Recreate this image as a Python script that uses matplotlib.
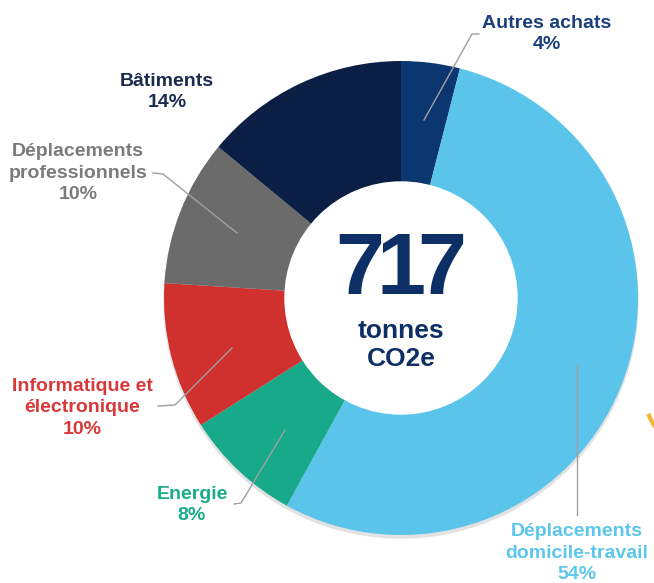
import matplotlib
matplotlib.use("Agg")
import matplotlib.pyplot as plt
from matplotlib.patches import Circle, Arc

plt.rcParams['font.family'] = ['Liberation Sans', 'DejaVu Sans']

# ---- data ----
categories = ["Autres achats", "Déplacements\ndomicile-travail", "Energie",
              "Informatique et\nélectronique", "Déplacements\nprofessionnels", "Bâtiments"]
values = [4, 54, 8, 10, 10, 14]
slice_colors = ["#0b3670", "#5bc4ea", "#17a98a", "#d0302e", "#6b6b6b", "#0b1f44"]
label_colors = ["#1b3e7e", "#5cc6ec", "#1aab8b", "#d9383a", "#7b7b7b", "#1a2b50"]
total_value = "717"
total_unit = "tonnes\nCO2e"

W, H = 654, 583
fig = plt.figure(figsize=(W / 100, H / 100), dpi=100)
ax = fig.add_axes([0, 0, 1, 1])

def Y(y):
    return H - y

cx, cy, R, r_in = 401, 298, 237, 116

# subtle shadow
ax.add_patch(Circle((cx, Y(cy + 3)), R, color="#e2e2e2", zorder=0))

wedges, _ = ax.pie(values, colors=slice_colors, startangle=90, counterclock=False,
                   center=(cx, Y(cy)), radius=R,
                   wedgeprops=dict(width=R - r_in, linewidth=0))
for w in wedges:
    w.set_zorder(1)
ax.add_patch(Circle((cx, Y(cy)), r_in, color="white", zorder=2))

# center text (tightly tracked digits)
num_color = "#0d2f66"
pitch = 41
n = len(total_value)
for i, ch in enumerate(total_value):
    ax.text(401 + (i - (n - 1) / 2) * pitch, Y(271), ch, fontsize=63.5,
            fontweight="bold", color=num_color, ha="center", va="center", zorder=3)
ax.text(401, Y(345), total_unit, fontsize=19, fontweight="bold", color=num_color,
        ha="center", va="center", linespacing=1.2, zorder=3)

# labels
label_pos = [(547, 34), (577, 553), (192, 505), (82, 408), (78, 173), (167, 92)]
for cat, v, col, (lx, ly) in zip(categories, values, label_colors, label_pos):
    ax.text(lx, Y(ly), f"{cat}\n{v}%", fontsize=14, fontweight="bold", color=col,
            ha="center", va="center", linespacing=1.36, zorder=4)

# leader lines
lc = "#a0a0a0"
leaders = [
    [(424, 120), (472, 34), (479, 34)],
    [(577, 365), (577, 515)],
    [(285, 430), (241, 503), (234, 504)],
    [(232, 348), (175, 405), (158, 406)],
    [(237, 233), (163, 174), (153, 173)],
]
for pts in leaders:
    xs = [p[0] for p in pts]
    ys = [Y(p[1]) for p in pts]
    ax.plot(xs, ys, color=lc, lw=1.0, zorder=3)

# yellow artifact at right edge
ax.add_patch(Arc((700, Y(395)), 110, 110, theta1=200, theta2=235,
                 color="#f4b731", lw=3, zorder=3))

ax.set_xlim(0, W)
ax.set_ylim(0, H)
ax.set_aspect("auto")
ax.axis("off")
fig.savefig("out.png", dpi=100)
